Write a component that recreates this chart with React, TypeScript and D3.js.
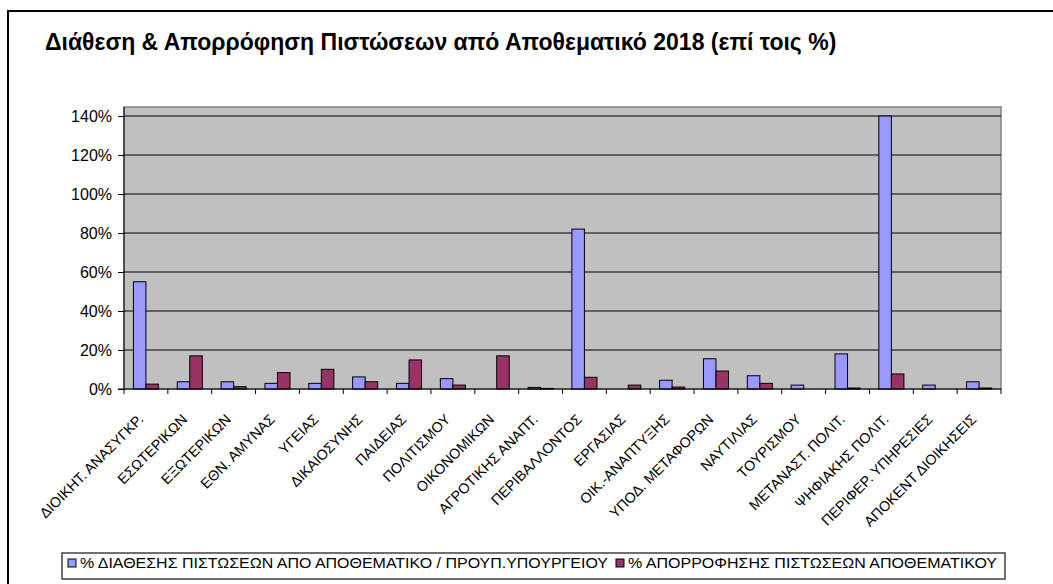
import React, { useRef, useEffect } from 'react';
import * as d3 from 'd3';

const categories = [
  'ΔΙΟΙΚΗΤ. ΑΝΑΣΥΓΚΡ.',
  'ΕΣΩΤΕΡΙΚΩΝ',
  'ΕΞΩΤΕΡΙΚΩΝ',
  'ΕΘΝ. ΑΜΥΝΑΣ',
  'ΥΓΕΙΑΣ',
  'ΔΙΚΑΙΟΣΥΝΗΣ',
  'ΠΑΙΔΕΙΑΣ',
  'ΠΟΛΙΤΙΣΜΟΥ',
  'ΟΙΚΟΝΟΜΙΚΩΝ',
  'ΑΓΡΟΤΙΚΗΣ ΑΝΑΠΤ.',
  'ΠΕΡΙΒΑΛΛΟΝΤΟΣ',
  'ΕΡΓΑΣΙΑΣ',
  'ΟΙΚ.-ΑΝΑΠΤΥΞΗΣ',
  'ΥΠΟΔ. ΜΕΤΑΦΟΡΩΝ',
  'ΝΑΥΤΙΛΙΑΣ',
  'ΤΟΥΡΙΣΜΟΥ',
  'ΜΕΤΑΝΑΣΤ. ΠΟΛΙΤ.',
  'ΨΗΦΙΑΚΗΣ ΠΟΛΙΤ.',
  'ΠΕΡΙΦΕΡ. ΥΠΗΡΕΣΙΕΣ',
  'ΑΠΟΚΕΝΤ ΔΙΟΙΚΗΣΕΙΣ'
];

// % διάθεσης πιστώσεων από αποθεματικό / προϋπ. υπουργείου
const allocation = [55, 3.7, 3.7, 2.9, 2.9, 6.2, 2.9, 5.3, 0, 0.8, 82, 0, 4.5, 15.5, 6.8, 2, 18, 140, 2, 3.7];
// % απορρόφησης πιστώσεων αποθεματικού
const absorption = [2.5, 17, 1.2, 8.4, 10.1, 3.7, 14.9, 2, 17, 0.3, 6, 2, 1, 9.2, 2.9, 0, 0.5, 7.7, 0, 0.5];

const yTicks = [0, 20, 40, 60, 80, 100, 120, 140];

const seriesNames = [
  '% ΔΙΑΘΕΣΗΣ ΠΙΣΤΩΣΕΩΝ ΑΠΟ ΑΠΟΘΕΜΑΤΙΚΟ / ΠΡΟΥΠ.ΥΠΟΥΡΓΕΙΟΥ',
  '% ΑΠΟΡΡΟΦΗΣΗΣ ΠΙΣΤΩΣΕΩΝ ΑΠΟΘΕΜΑΤΙΚΟΥ'
];
const seriesColors = ['#9999ff', '#993366'];

const App: React.FC = () => {
  const ref = useRef<SVGSVGElement | null>(null);

  useEffect(() => {
    const width = 1053;
    const height = 584;
    const svg = d3.select(ref.current);
    svg.selectAll('*').remove();
    svg.attr('width', width).attr('height', height);

    const font = 'Arial, "Liberation Sans", sans-serif';

    // outer chart frame (right and bottom edges fall outside the picture)
    svg.append('rect')
      .attr('x', 8).attr('y', 11)
      .attr('width', 1060).attr('height', 600)
      .attr('fill', 'white').attr('stroke', 'black').attr('stroke-width', 2);

    svg.append('text')
      .attr('x', 45).attr('y', 50)
      .attr('font-family', font).attr('font-weight', 'bold').attr('font-size', 23)
      .text('Διάθεση & Απορρόφηση Πιστώσεων από Αποθεματικό 2018 (επί τοις %)');

    const left = 124, right = 1001, top = 107, bottom = 389;

    const x = d3.scaleBand<string>().domain(categories).range([left, right]);
    const y = d3.scaleLinear().domain([0, 140]).range([bottom, 116]);
    const barW = x.bandwidth() / 3.5;

    svg.append('rect')
      .attr('x', left).attr('y', top)
      .attr('width', right - left).attr('height', bottom - top)
      .attr('fill', '#c0c0c0').attr('stroke', '#808080').attr('stroke-width', 1.5);

    svg.append('g')
      .selectAll('line')
      .data(yTicks.slice(1))
      .join('line')
      .attr('x1', left).attr('x2', right)
      .attr('y1', (d) => y(d)).attr('y2', (d) => y(d))
      .attr('stroke', 'black').attr('stroke-width', 1);

    const groups = svg.append('g')
      .selectAll('g')
      .data(categories)
      .join('g')
      .attr('transform', (d) => `translate(${x(d)! + barW * 0.75},0)`);

    [allocation, absorption].forEach((vals, s) => {
      groups.append('rect')
        .attr('x', s * barW)
        .attr('y', (_, i) => y(vals[i]))
        .attr('width', barW)
        .attr('height', (_, i) => bottom - y(vals[i]))
        .attr('fill', seriesColors[s])
        .attr('stroke', 'black')
        .attr('stroke-width', 1)
        .attr('display', (_, i) => (vals[i] > 0 ? null : 'none'));
    });

    // y axis
    const yAxis = d3.axisLeft(y).tickValues(yTicks).tickSize(6).tickFormat((d) => `${d}%`);
    const yg = svg.append('g').attr('transform', `translate(${left},0)`).call(yAxis);
    yg.select('.domain').attr('d', `M0,${top}V${bottom}`).attr('stroke', 'black');
    yg.selectAll('.tick line').attr('stroke', 'black');
    yg.selectAll('text').attr('font-family', font).attr('font-size', 16).attr('fill', 'black').attr('x', -12);

    // x axis
    const xg = svg.append('g');
    xg.append('line')
      .attr('x1', left - 6).attr('x2', right)
      .attr('y1', bottom).attr('y2', bottom)
      .attr('stroke', 'black');
    xg.selectAll('line.tk')
      .data(d3.range(categories.length + 1))
      .join('line')
      .attr('class', 'tk')
      .attr('x1', (i) => left + i * x.bandwidth()).attr('x2', (i) => left + i * x.bandwidth())
      .attr('y1', bottom).attr('y2', bottom + 5)
      .attr('stroke', 'black');
    xg.selectAll('text')
      .data(categories)
      .join('text')
      .attr('transform', (d) => `translate(${x(d)! + x.bandwidth() / 2 - 9},${bottom + 24}) rotate(-45)`)
      .attr('text-anchor', 'end')
      .attr('dy', '0.72em')
      .attr('font-family', font).attr('font-size', 14.3)
      .text((d) => d);

    // legend
    const lg = svg.append('g');
    lg.append('rect')
      .attr('x', 62).attr('y', 553).attr('width', 943).attr('height', 26)
      .attr('fill', 'white').attr('stroke', '#404040').attr('stroke-width', 1.5);
    const items = [{ x: 68, tx: 80, len: 528 }, { x: 616, tx: 628, len: 369 }];
    items.forEach((it, i) => {
      lg.append('rect')
        .attr('x', it.x).attr('y', 559).attr('width', 8).attr('height', 8)
        .attr('fill', seriesColors[i]).attr('stroke', 'black');
      lg.append('text')
        .attr('x', it.tx).attr('y', 568)
        .attr('font-family', font).attr('font-size', 14)
        .attr('textLength', it.len).attr('lengthAdjust', 'spacingAndGlyphs')
        .text(seriesNames[i]);
    });
  }, []);

  return (
    <div style={{ position: 'absolute', left: 0, top: 0 }}>
      <svg ref={ref} />
    </div>
  );
};

export default App;
